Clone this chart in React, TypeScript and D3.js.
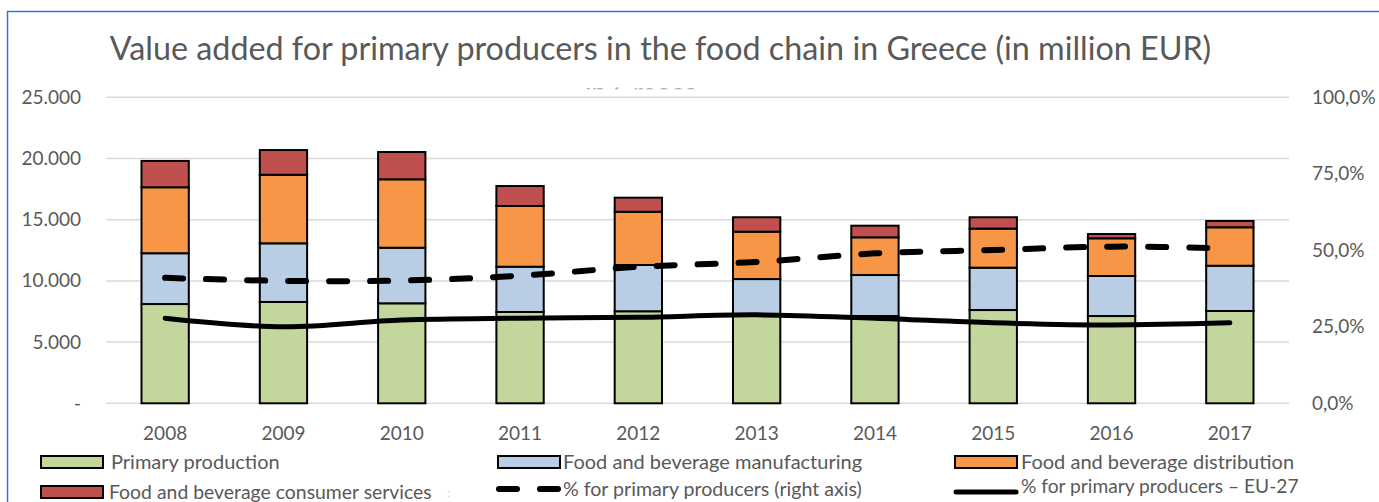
import React from 'react';
import * as d3 from 'd3';

const years = ['2008', '2009', '2010', '2011', '2012', '2013', '2014', '2015', '2016', '2017'];
const primaryProduction = [8110, 8280, 8170, 7460, 7520, 7250, 7130, 7620, 7130, 7540];
const manufacturing = [4150, 4790, 4540, 3700, 3780, 2900, 3350, 3460, 3270, 3700];
const distribution = [5390, 5600, 5590, 4960, 4350, 3870, 3080, 3190, 3080, 3140];
const consumerServices = [2150, 2020, 2230, 1630, 1150, 1180, 950, 930, 350, 515];
const sharePrimary = [41.0, 40.0, 40.1, 41.7, 44.6, 46.2, 49.0, 50.1, 51.2, 50.6];
const shareEU27 = [27.8, 25.0, 27.2, 27.8, 28.1, 28.9, 27.8, 26.3, 25.6, 26.3];
const leftTicks = [0, 5000, 10000, 15000, 20000, 25000];
const leftTickLabels = ['-', '5.000', '10.000', '15.000', '20.000', '25.000'];
const rightTicks = [0, 25, 50, 75, 100];
const rightTickLabels = ['0,0%', '25,0%', '50,0%', '75,0%', '100,0%'];
const seriesNames = [
  'Primary production',
  'Food and beverage manufacturing',
  'Food and beverage distribution',
  'Food and beverage consumer services',
];
const lineNames = ['% for primary producers (right axis)', '% for primary producers – EU-27'];
const title = 'Value added for primary producers in the food chain in Greece (in million EUR)';

const colors = ['#c3d69b', '#b9cde5', '#f79646', '#c0504d'];
const FONT = 'Lato, "Noto Sans", sans-serif';
const TXT = '#595959';

export default function App() {
  const W = 1379, H = 502;
  const x = d3.scaleBand<string>().domain(years).range([106, 1289]).paddingInner(0.6).paddingOuter(0.3);
  const y = d3.scaleLinear().domain([0, 25000]).range([403.3, 97.3]);
  const yR = d3.scaleLinear().domain([0, 100]).range([403.3, 97.3]);

  const table = years.map((yr, i) => ({
    year: yr,
    p: primaryProduction[i],
    m: manufacturing[i],
    d: distribution[i],
    s: consumerServices[i],
  }));
  const stack = d3.stack<any>().keys(['p', 'm', 'd', 's'])(table);

  const cx = (yr: string) => (x(yr) as number) + x.bandwidth() / 2;
  const line = d3.line<number>()
    .x((_, i) => cx(years[i]))
    .y((v) => yR(v))
    .curve(d3.curveCardinal.tension(0));

  const legendCols = [40, 497, 954];
  const legendTextX = [111, 563, 1021];
  const legendRows = [462, 492];

  return (
    <svg width={W} height={H} style={{ position: 'absolute', left: 0, top: 0, background: '#fff' }}>
      <defs>
        <clipPath id="ghost">
          <rect x={560} y={87.5} width={200} height={1.8} />
        </clipPath>
      </defs>
      <rect x={0} y={0} width={W} height={H} fill="#fff" />
      {/* frame */}
      <path d={`M7.5,${H} V11.5 H${W}`} fill="none" stroke="#2b7bcf" strokeWidth={1.5} />
      {/* title */}
      <text x={660.5} y={60} textAnchor="middle" fontFamily={FONT} fontSize={32.3} fill={TXT}>{title}</text>
      <text x={585} y={101.5} fontFamily={FONT} fontSize={27} fill="#a6a6a6" clipPath="url(#ghost)">in Greece</text>

      {/* gridlines */}
      {leftTicks.map((t) => (
        <line key={t} x1={106} x2={1289} y1={y(t)} y2={y(t)} stroke="#d9d9d9" strokeWidth={1.5} />
      ))}
      {/* left ticks */}
      {leftTicks.map((t, i) => (
        <text key={t} x={81} y={y(t) + 6.5} textAnchor="end" fontFamily={FONT} fontSize={19} fill={TXT}>{leftTickLabels[i]}</text>
      ))}
      {/* right ticks */}
      {rightTicks.map((t, i) => (
        <text key={t} x={1312} y={yR(t) + 6.5} fontFamily={FONT} fontSize={19} fill={TXT}>{rightTickLabels[i]}</text>
      ))}
      {/* x labels */}
      {years.map((yr) => (
        <text key={yr} x={cx(yr)} y={440} textAnchor="middle" fontFamily={FONT} fontSize={19} fill={TXT}>{yr}</text>
      ))}

      {/* bars */}
      {stack.map((layer, li) => (
        <g key={li}>
          {layer.map((d, i) => (
            <rect key={i} x={x(years[i])} y={y(d[1])} width={x.bandwidth()} height={y(d[0]) - y(d[1])}
              fill={colors[li]} stroke="#000" strokeWidth={2} />
          ))}
        </g>
      ))}

      {/* lines */}
      <path d={line(shareEU27) || ''} fill="none" stroke="#000" strokeWidth={5} strokeLinecap="round" />
      <path d={line(sharePrimary) || ''} fill="none" stroke="#000" strokeWidth={6} strokeLinecap="round" strokeDasharray="18 23" />

      {/* legend */}
      {seriesNames.map((n, i) => {
        const col = i < 3 ? i : 0;
        const row = i < 3 ? 0 : 1;
        const lx = legendCols[col];
        const ly = legendRows[row];
        return (
          <g key={n}>
            <rect x={lx + 1} y={ly - 6} width={62} height={12} fill={colors[i]} stroke="#000" strokeWidth={2} />
            <text x={col === 0 && row === 1 ? 109 : legendTextX[col]} y={ly + 7} fontFamily={FONT} fontSize={row === 1 ? 19.4 : 20} fill={TXT}>{n}</text>
          </g>
        );
      })}
      <text x={447} y={legendRows[1] + 5} fontFamily={FONT} fontSize={12} fill="#cfcfcf">:</text>
      <line x1={legendCols[1]} x2={legendCols[1] + 64} y1={legendRows[1] - 3} y2={legendRows[1] - 3} stroke="#000" strokeWidth={6} strokeLinecap="round" strokeDasharray="18 23" transform="translate(2,0)" />
      <text x={legendTextX[1]} y={legendRows[1] + 4} fontFamily={FONT} fontSize={19.6} fill={TXT}>{lineNames[0]}</text>
      <line x1={legendCols[2] + 2} x2={legendCols[2] + 62} y1={legendRows[1]} y2={legendRows[1]} stroke="#000" strokeWidth={5} strokeLinecap="round" />
      <text x={legendTextX[2]} y={legendRows[1] + 1} fontFamily={FONT} fontSize={19.2} fill={TXT}>{lineNames[1]}</text>
    </svg>
  );
}
